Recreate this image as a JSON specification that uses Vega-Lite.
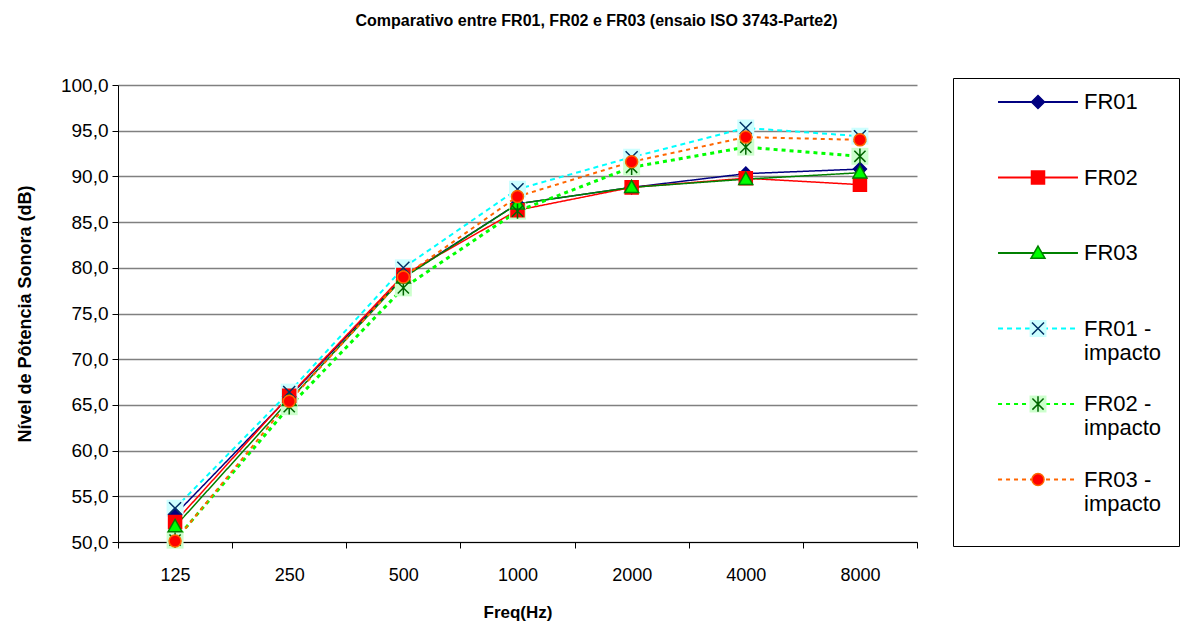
{
  "$schema": "https://vega.github.io/schema/vega-lite/v6.json",
  "width": 799,
  "height": 457,
  "autosize": {"type": "none"},
  "padding": {"left": 118, "top": 85, "right": 281, "bottom": 82},
  "background": "white",
  "title": {"text": "Comparativo entre FR01, FR02 e FR03 (ensaio ISO 3743-Parte2)", "font": "Liberation Sans", "fontSize": 16, "fontWeight": "bold", "color": "black", "anchor": "middle", "dx": 79, "offset": 36},
  "data": {"values": [
    {"freq": 125, "series": "FR01", "value": 53.0},
    {"freq": 250, "series": "FR01", "value": 65.9},
    {"freq": 500, "series": "FR01", "value": 79.0},
    {"freq": 1000, "series": "FR01", "value": 87.0},
    {"freq": 2000, "series": "FR01", "value": 88.8},
    {"freq": 4000, "series": "FR01", "value": 90.3},
    {"freq": 8000, "series": "FR01", "value": 90.8},
    {"freq": 125, "series": "FR02", "value": 52.2},
    {"freq": 250, "series": "FR02", "value": 66.0},
    {"freq": 500, "series": "FR02", "value": 79.2},
    {"freq": 1000, "series": "FR02", "value": 86.3},
    {"freq": 2000, "series": "FR02", "value": 88.8},
    {"freq": 4000, "series": "FR02", "value": 89.8},
    {"freq": 8000, "series": "FR02", "value": 89.1},
    {"freq": 125, "series": "FR03", "value": 51.7},
    {"freq": 250, "series": "FR03", "value": 65.5},
    {"freq": 500, "series": "FR03", "value": 78.9},
    {"freq": 1000, "series": "FR03", "value": 87.0},
    {"freq": 2000, "series": "FR03", "value": 88.8},
    {"freq": 4000, "series": "FR03", "value": 89.7},
    {"freq": 8000, "series": "FR03", "value": 90.4},
    {"freq": 125, "series": "FR01 - impacto", "value": 53.7},
    {"freq": 250, "series": "FR01 - impacto", "value": 66.4},
    {"freq": 500, "series": "FR01 - impacto", "value": 80.0},
    {"freq": 1000, "series": "FR01 - impacto", "value": 88.6},
    {"freq": 2000, "series": "FR01 - impacto", "value": 92.1},
    {"freq": 4000, "series": "FR01 - impacto", "value": 95.3},
    {"freq": 8000, "series": "FR01 - impacto", "value": 94.4},
    {"freq": 125, "series": "FR02 - impacto", "value": 50.2},
    {"freq": 250, "series": "FR02 - impacto", "value": 64.8},
    {"freq": 500, "series": "FR02 - impacto", "value": 77.8},
    {"freq": 1000, "series": "FR02 - impacto", "value": 86.2},
    {"freq": 2000, "series": "FR02 - impacto", "value": 91.0},
    {"freq": 4000, "series": "FR02 - impacto", "value": 93.2},
    {"freq": 8000, "series": "FR02 - impacto", "value": 92.2},
    {"freq": 125, "series": "FR03 - impacto", "value": 50.1},
    {"freq": 250, "series": "FR03 - impacto", "value": 65.4},
    {"freq": 500, "series": "FR03 - impacto", "value": 79.0},
    {"freq": 1000, "series": "FR03 - impacto", "value": 87.8},
    {"freq": 2000, "series": "FR03 - impacto", "value": 91.6},
    {"freq": 4000, "series": "FR03 - impacto", "value": 94.3},
    {"freq": 8000, "series": "FR03 - impacto", "value": 94.0}
  ]},
  "encoding": {
    "x": {"field": "freq", "type": "ordinal", "scale": {"paddingInner": 0, "paddingOuter": 0},
      "axis": {"title": "Freq(Hz)", "labelAngle": 0, "tickBand": "extent", "grid": false, "domainColor": "black", "tickColor": "black", "tickSize": 6, "labelFontSize": 18, "labelColor": "black", "labelPadding": 18, "titleFontSize": 17, "titleFontWeight": "bold", "titleColor": "black", "titlePadding": 20}},
    "y": {"field": "value", "type": "quantitative", "scale": {"domain": [50, 100], "nice": false, "zero": false},
      "axis": {"title": "Nível de Pôtencia Sonora (dB)", "values": [50, 55, 60, 65, 70, 75, 80, 85, 90, 95, 100], "labelExpr": "replace(format(datum.value, '.1f'), '.', ',')", "grid": true, "gridColor": "#808080", "gridWidth": 1.5, "domainColor": "black", "tickColor": "black", "tickSize": 6, "labelFontSize": 19, "labelColor": "black", "labelPadding": 4, "titleFontSize": 18, "titleFontWeight": "bold", "titleColor": "black", "titlePadding": 26}}
  },
  "layer": [
    {
      "mark": {"type": "line"},
      "encoding": {
        "color": {"field": "series", "type": "nominal",
          "scale": {"domain": ["FR01", "FR02", "FR03", "FR01 - impacto", "FR02 - impacto", "FR03 - impacto"], "range": ["#000080", "#FF0000", "#008000", "#00FFFF", "#00FF00", "#FF6600"]},
          "legend": {"orient": "none", "legendX": 835, "legendY": -7, "title": null, "symbolType": "M-5.71,-0.57L5.71,-0.57", "symbolSize": 196, "symbolStrokeWidth": 2, "padding": 17, "rowPadding": 19.5, "gridAlign": "all", "symbolOffset": 57, "labelOffset": 35, "labelFont": "Liberation Sans", "labelFontSize": 22, "labelColor": "black", "labelBaseline": "top", "labelOpacity": 0, "labelExpr": "datum.label == 'FR01 - impacto' ? ['FR01 -', 'impacto'] : datum.label == 'FR02 - impacto' ? ['FR02 -', 'impacto'] : datum.label == 'FR03 - impacto' ? ['FR03 -', 'impacto'] : [datum.label, ' ']", "strokeColor": "black", "fillColor": "white"}},
        "strokeDash": {"field": "series", "type": "nominal",
          "scale": {"domain": ["FR01", "FR02", "FR03", "FR01 - impacto", "FR02 - impacto", "FR03 - impacto"], "range": [[1, 0], [1, 0], [1, 0], [5, 4], [4, 4], [4, 4]]},
          "legend": {"orient": "none", "legendX": 835, "legendY": -7, "title": null, "symbolType": "M-5.71,-0.57L5.71,-0.57", "symbolSize": 196, "symbolStrokeWidth": 2, "padding": 17, "rowPadding": 19.5, "gridAlign": "all", "symbolOffset": 57, "labelOffset": 35, "labelFont": "Liberation Sans", "labelFontSize": 22, "labelColor": "black", "labelBaseline": "top", "labelOpacity": 0, "labelExpr": "datum.label == 'FR01 - impacto' ? ['FR01 -', 'impacto'] : datum.label == 'FR02 - impacto' ? ['FR02 -', 'impacto'] : datum.label == 'FR03 - impacto' ? ['FR03 -', 'impacto'] : [datum.label, ' ']", "strokeColor": "black", "fillColor": "white"}},
        "strokeWidth": {"field": "series", "type": "ordinal",
          "scale": {"type": "ordinal", "domain": ["FR01", "FR02", "FR03", "FR01 - impacto", "FR02 - impacto", "FR03 - impacto"], "range": [1.5, 1.5, 1.5, 2, 3, 2]}, "legend": null}
      }
    },
    {
      "mark": {"type": "point", "filled": true, "size": 196, "opacity": 1, "strokeWidth": 0, "shape": "M-1.21,-1.21H1.21V1.21H-1.21Z"},
      "encoding": {
        "fill": {"field": "series", "type": "nominal",
          "scale": {"domain": ["FR01", "FR02", "FR03", "FR01 - impacto", "FR02 - impacto", "FR03 - impacto"], "range": ["transparent", "transparent", "transparent", "#CCFFFF", "#CCFFCC", "transparent"]},
          "legend": {"orient": "none", "legendX": 835, "legendY": -20, "title": null, "symbolType": "M-1.21,0.22H1.21V2.64H-1.21Z", "symbolSize": 196, "symbolStrokeWidth": 0, "padding": 16, "rowPadding": 19.5, "gridAlign": "all", "symbolOffset": 58, "labelOffset": 35, "labelFont": "Liberation Sans", "labelFontSize": 22, "labelColor": "black", "labelBaseline": "top", "labelOpacity": 0, "labelExpr": "datum.label == 'FR01 - impacto' ? ['FR01 -', 'impacto'] : datum.label == 'FR02 - impacto' ? ['FR02 -', 'impacto'] : datum.label == 'FR03 - impacto' ? ['FR03 -', 'impacto'] : [datum.label, ' ']"}}
      }
    },
    {
      "mark": {"type": "point", "filled": false, "size": 196, "opacity": 1, "strokeWidth": 1.5},
      "encoding": {
        "shape": {"field": "series", "type": "nominal",
          "scale": {"domain": ["FR01", "FR02", "FR03", "FR01 - impacto", "FR02 - impacto", "FR03 - impacto"], "range": ["M0,-0.93L0.93,0L0,0.93L-0.93,0Z", "M-0.93,-0.93H0.93V0.93H-0.93Z", "M0,-1L1,0.75L-1,0.75Z", "M-0.86,-0.86L0.86,0.86M-0.86,0.86L0.86,-0.86", "M-0.8,-0.8L0.8,0.8M-0.8,0.8L0.8,-0.8M0,-1.1L0,1.1", "M-0.86,0A0.86,0.86 0 1,0 0.86,0A0.86,0.86 0 1,0 -0.86,0Z"]},
          "legend": null},
        "fill": {"field": "series", "type": "nominal",
          "scale": {"domain": ["FR01", "FR02", "FR03", "FR01 - impacto", "FR02 - impacto", "FR03 - impacto"], "range": ["#000080", "#FF0000", "#00FF00", "transparent", "transparent", "#FF0000"]},
          "legend": null},
        "stroke": {"field": "series", "type": "nominal",
          "scale": {"domain": ["FR01", "FR02", "FR03", "FR01 - impacto", "FR02 - impacto", "FR03 - impacto"], "range": ["#000080", "#FF0000", "#008000", "#003366", "#006600", "#FF6600"]},
          "legend": null}
      }
    },
    {
      "transform": [{"filter": "datum.value > 1000"}],
      "mark": {"type": "point", "filled": false, "size": 196, "opacity": 1, "strokeWidth": 1.5},
      "encoding": {
        "shape": {"field": "series", "type": "nominal",
          "scale": {"domain": ["FR01", "FR02", "FR03", "FR01 - impacto", "FR02 - impacto", "FR03 - impacto"], "range": ["M0,0.5L0.93,1.43L0,2.36L-0.93,1.43Z", "M-0.93,0.5H0.93V2.36H-0.93Z", "M0,0.43L1,2.18L-1,2.18Z", "M-0.86,0.57L0.86,2.29M-0.86,2.29L0.86,0.57", "M-0.8,0.63L0.8,2.23M-0.8,2.23L0.8,0.63M0,0.33L0,2.53", "M-0.86,1.43A0.86,0.86 0 1,0 0.86,1.43A0.86,0.86 0 1,0 -0.86,1.43Z"]},
          "legend": {"orient": "none", "legendX": 835, "legendY": -20, "title": null, "symbolSize": 196, "symbolStrokeWidth": 1.5, "symbolOpacity": 1, "padding": 16, "rowPadding": 19.5, "gridAlign": "all", "symbolOffset": 58, "labelOffset": 35, "labelFont": "Liberation Sans", "labelFontSize": 22, "labelColor": "black", "labelBaseline": "top", "labelExpr": "datum.label == 'FR01 - impacto' ? ['FR01 -', 'impacto'] : datum.label == 'FR02 - impacto' ? ['FR02 -', 'impacto'] : datum.label == 'FR03 - impacto' ? ['FR03 -', 'impacto'] : [datum.label, ' ']"}},
        "fill": {"field": "series", "type": "nominal",
          "scale": {"domain": ["FR01", "FR02", "FR03", "FR01 - impacto", "FR02 - impacto", "FR03 - impacto"], "range": ["#000080", "#FF0000", "#00FF00", "transparent", "transparent", "#FF0000"]},
          "legend": {"orient": "none", "legendX": 835, "legendY": -20, "title": null, "symbolSize": 196, "symbolStrokeWidth": 1.5, "symbolOpacity": 1, "padding": 16, "rowPadding": 19.5, "gridAlign": "all", "symbolOffset": 58, "labelOffset": 35, "labelFont": "Liberation Sans", "labelFontSize": 22, "labelColor": "black", "labelBaseline": "top", "labelExpr": "datum.label == 'FR01 - impacto' ? ['FR01 -', 'impacto'] : datum.label == 'FR02 - impacto' ? ['FR02 -', 'impacto'] : datum.label == 'FR03 - impacto' ? ['FR03 -', 'impacto'] : [datum.label, ' ']"}},
        "stroke": {"field": "series", "type": "nominal",
          "scale": {"domain": ["FR01", "FR02", "FR03", "FR01 - impacto", "FR02 - impacto", "FR03 - impacto"], "range": ["#000080", "#FF0000", "#008000", "#003366", "#006600", "#FF6600"]},
          "legend": {"orient": "none", "legendX": 835, "legendY": -20, "title": null, "symbolSize": 196, "symbolStrokeWidth": 1.5, "symbolOpacity": 1, "padding": 16, "rowPadding": 19.5, "gridAlign": "all", "symbolOffset": 58, "labelOffset": 35, "labelFont": "Liberation Sans", "labelFontSize": 22, "labelColor": "black", "labelBaseline": "top", "labelExpr": "datum.label == 'FR01 - impacto' ? ['FR01 -', 'impacto'] : datum.label == 'FR02 - impacto' ? ['FR02 -', 'impacto'] : datum.label == 'FR03 - impacto' ? ['FR03 -', 'impacto'] : [datum.label, ' ']"}}
      }
    }
  ],
  "resolve": {
    "scale": {"fill": "independent", "shape": "independent", "stroke": "independent"},
    "legend": {"color": "independent", "fill": "independent", "shape": "independent", "stroke": "independent", "strokeDash": "independent"}
  },
  "config": {
    "font": "Liberation Sans",
    "view": {"stroke": null}
  }
}
